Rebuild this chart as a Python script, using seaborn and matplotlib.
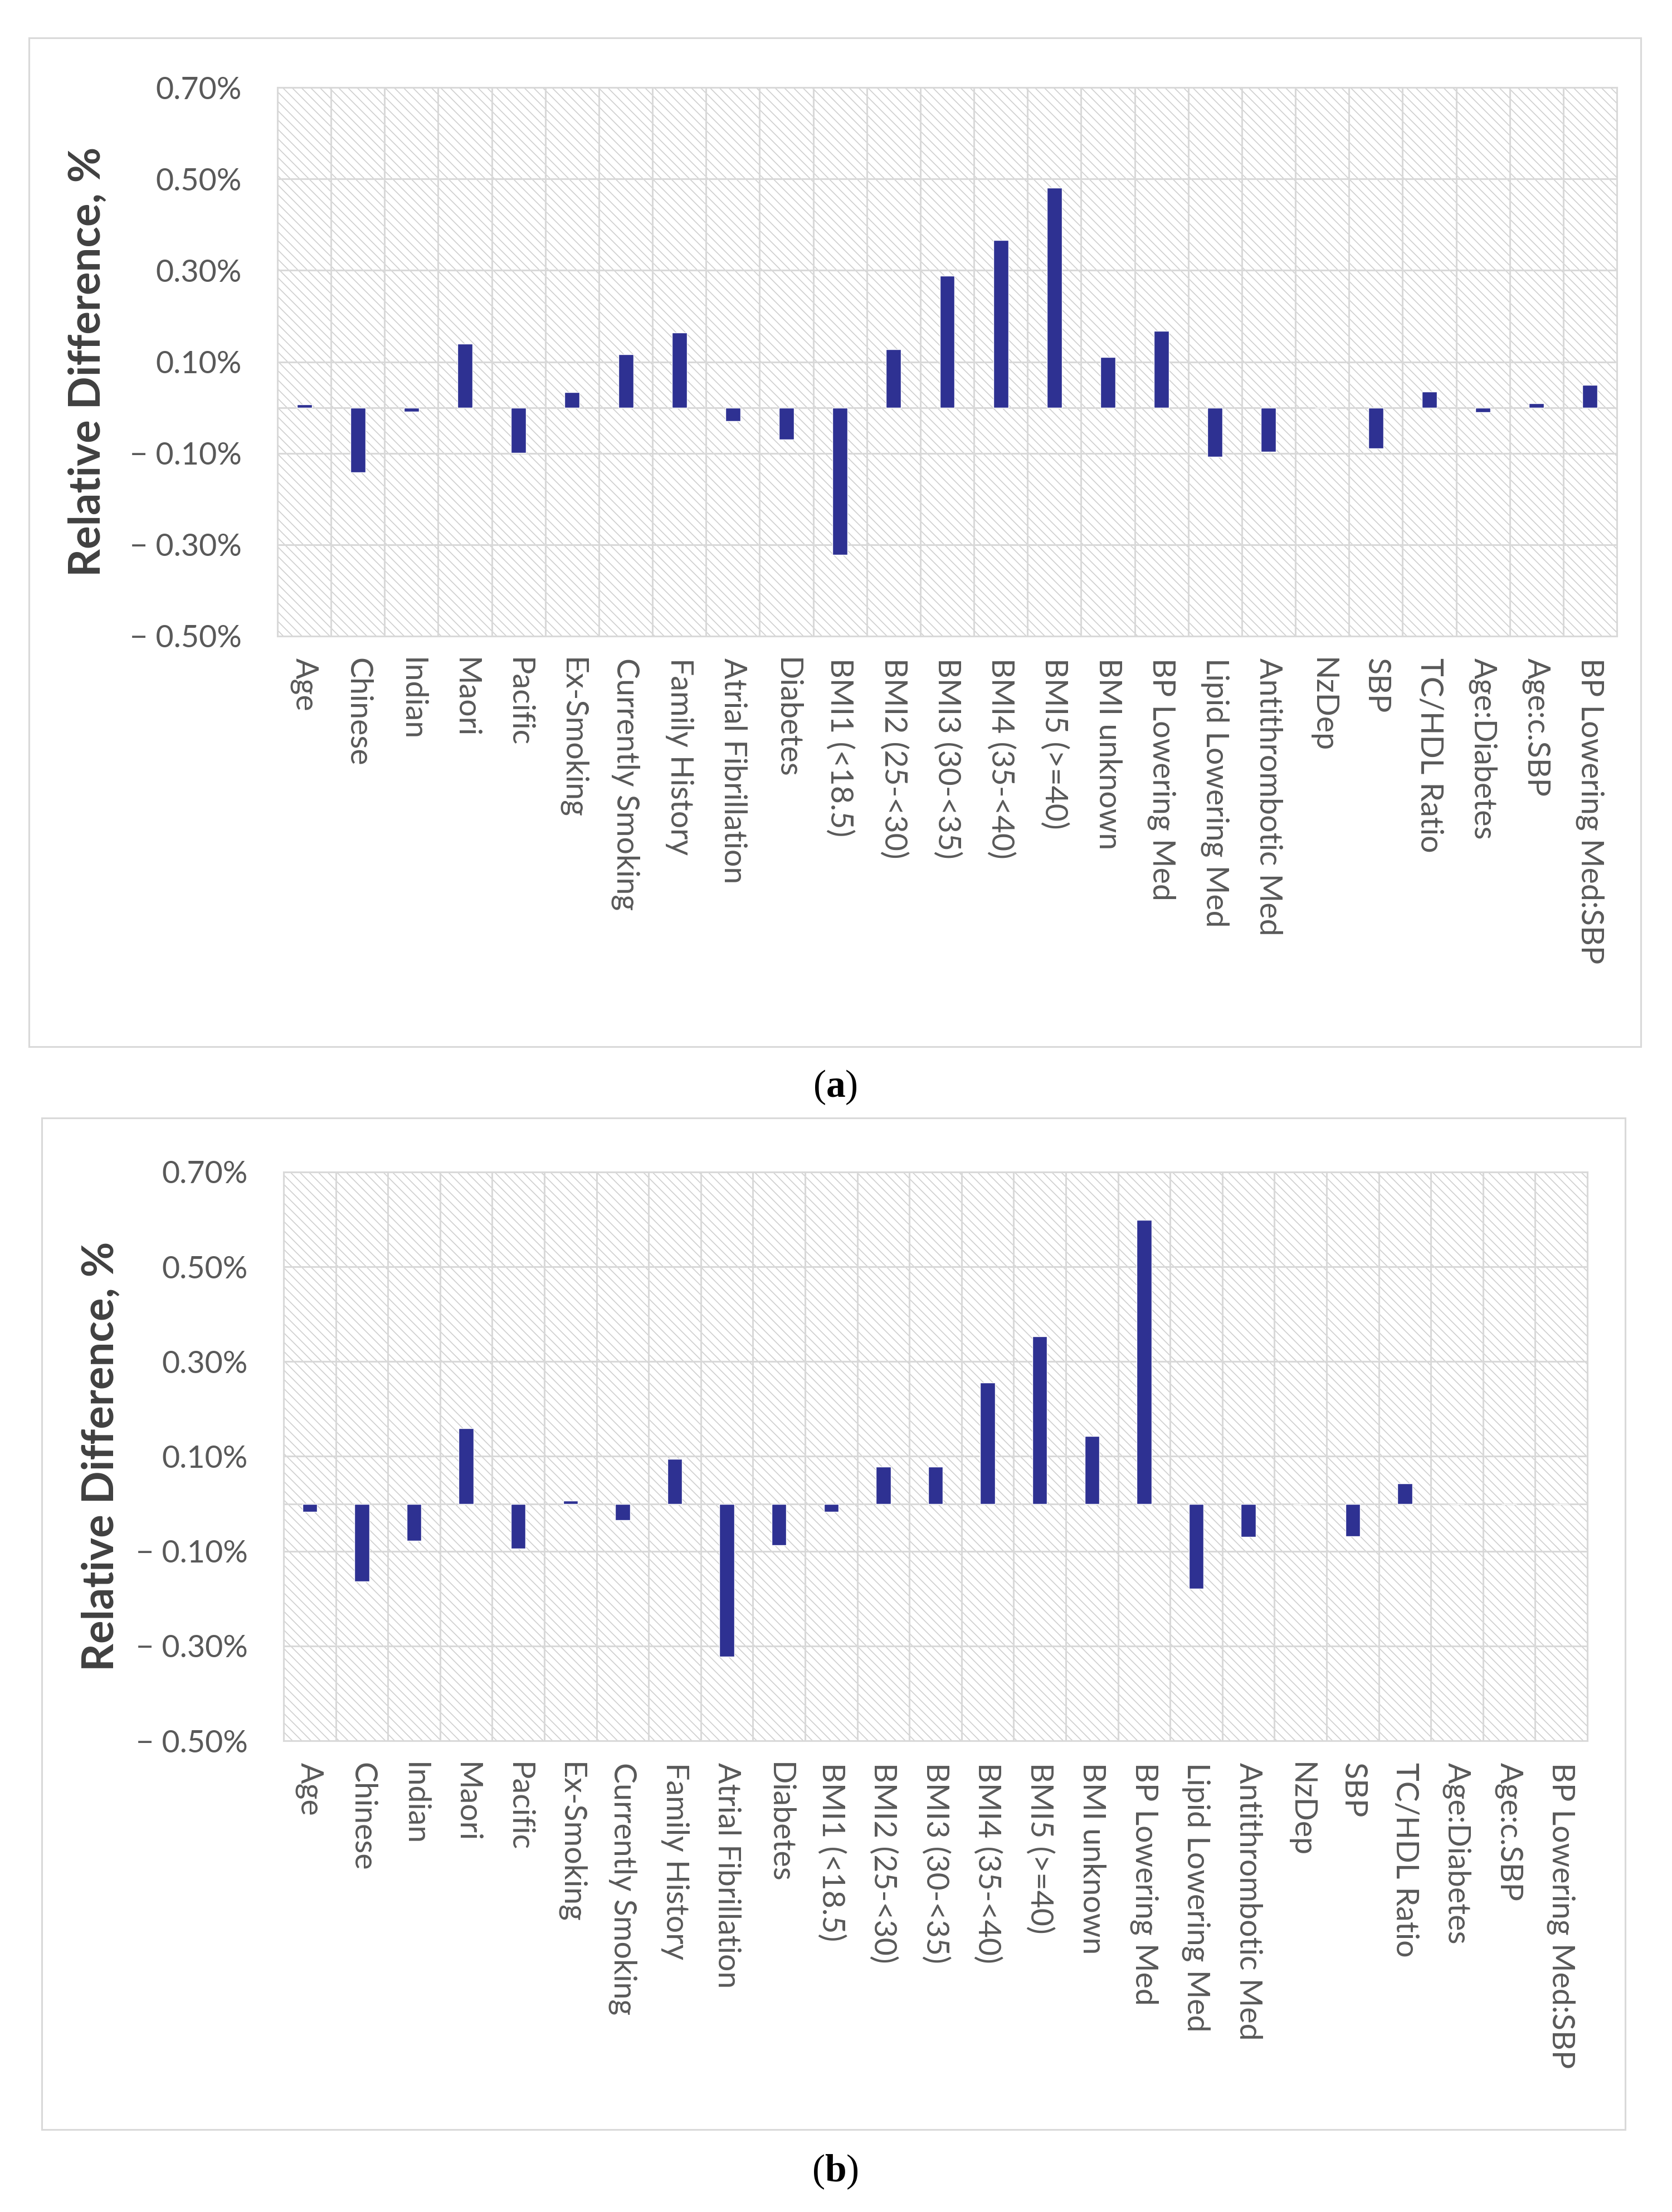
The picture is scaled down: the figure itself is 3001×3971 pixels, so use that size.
#!/usr/bin/env python3
import matplotlib

matplotlib.use("Agg")
import matplotlib.pyplot as plt
import numpy as np
import pandas as pd
import seaborn as sns
from matplotlib.patches import Rectangle

# predictors, in plotting order
predictors = [
    "Age", "Chinese", "Indian", "Maori", "Pacific", "Ex-Smoking",
    "Currently Smoking", "Family History", "Atrial Fibrillation", "Diabetes",
    "BMI1 (<18.5)", "BMI2 (25-<30)", "BMI3 (30-<35)", "BMI4 (35-<40)",
    "BMI5 (>=40)", "BMI unknown", "BP Lowering Med", "Lipid Lowering Med",
    "Antithrombotic Med", "NzDep", "SBP", "TC/HDL Ratio", "Age:Diabetes",
    "Age:c.SBP", "BP Lowering Med:SBP",
]

# relative difference, in %
diff_a = [
    0.007, -0.142, -0.009, 0.139, -0.099, 0.034, 0.117, 0.164, -0.030, -0.070,
    -0.322, 0.127, 0.288, 0.366, 0.481, 0.110, 0.168, -0.108, -0.097, 0.0,
    -0.090, 0.035, -0.010, 0.009, 0.050,
]
diff_b = [
    -0.017, -0.164, -0.078, 0.159, -0.094, 0.007, -0.035, 0.095, -0.323, -0.088,
    -0.017, 0.078, 0.078, 0.256, 0.353, 0.143, 0.599, -0.179, -0.070, 0.0,
    -0.069, 0.043, 0.0, 0.0, 0.0,
]

ytick_values = [-0.5, -0.3, -0.1, 0.1, 0.3, 0.5, 0.7]
ytick_labels = ["\u2212 0.50%", "\u2212 0.30%", "\u2212 0.10%", "0.10%", "0.30%", "0.50%", "0.70%"]

W, H = 3001, 3971
BAR = "#2e3192"
GRID = "#d9d9d9"
TICK = "#595959"


def fx(px):
    return px / W


def fy(px):
    return 1 - px / H


def draw_panel(fig, box, values, frame, label_x, tag, tag_y):
    x0, y0, x1, y1 = box
    ax = fig.add_axes([fx(x0), fy(y1), fx(x1 - x0), (y1 - y0) / H])

    # hatched plot area like the excel "wide downward diagonal" fill
    ax.add_patch(Rectangle((0, 0), 1, 1, transform=ax.transAxes, facecolor="white",
                           edgecolor="#cfcfcf", hatch="\\\\", linewidth=0, zorder=0))

    df = pd.DataFrame({"Predictor": predictors, "Diff": values})
    sns.barplot(data=df, x="Predictor", y="Diff", color=BAR, saturation=1,
                width=0.28, ax=ax, zorder=2)

    n = len(predictors)
    ax.set_xlim(-0.5, n - 0.5)
    ax.set_ylim(-0.5, 0.7)
    ax.set_yticks(ytick_values)
    ax.set_yticklabels(ytick_labels)
    ax.set_xticks(np.arange(-0.5, n, 1.0), minor=True)
    ax.set_axisbelow(True)
    ax.grid(True, which="major", axis="y", color=GRID, lw=2.2)
    ax.grid(True, which="minor", axis="x", color=GRID, lw=2.2)
    ax.grid(False, which="major", axis="x")
    ax.axhline(0, color=GRID, lw=2.2, zorder=1)
    ax.tick_params(axis="both", which="both", length=0)
    ax.tick_params(axis="y", pad=46, labelsize=40, labelcolor=TICK)
    ax.tick_params(axis="x", pad=28, labelsize=40, labelcolor=TICK)
    for t in ax.get_xticklabels():
        t.set_rotation(-90)
        t.set_ha("center")
        t.set_va("top")
    ax.set_xlabel("")
    ax.set_ylabel("")
    for sp in ax.spines.values():
        sp.set_color(GRID)
        sp.set_linewidth(2.2)

    fig.text(fx(label_x), fy((y0 + y1) / 2), "Relative Difference, %", rotation=90,
             ha="center", va="center", fontsize=56, fontweight="bold", color="#404040")

    bx0, by0, bx1, by1 = frame
    fig.add_artist(Rectangle((fx(bx0), fy(by1)), fx(bx1 - bx0), (by1 - by0) / H,
                             transform=fig.transFigure, fill=False, edgecolor=GRID,
                             linewidth=2.2))
    fig.text(fx(1499), fy(tag_y), "($\\mathbf{%s}$)" % tag, ha="center", va="center",
             fontsize=50, family="Liberation Serif", color="black")
    return ax


def main() -> None:
    sns.set_style("white")
    plt.rcParams["font.family"] = ["Lato", "DejaVu Sans"]
    plt.rcParams["mathtext.fontset"] = "custom"
    plt.rcParams["mathtext.bf"] = "Liberation Serif:bold"
    plt.rcParams["mathtext.rm"] = "Liberation Serif"
    plt.rcParams["hatch.linewidth"] = 1.2
    plt.rcParams["hatch.color"] = "#cfcfcf"

    fig = plt.figure(figsize=(W / 100, H / 100), dpi=100)
    fig.patch.set_facecolor("white")

    draw_panel(fig, (498, 157, 2902, 1142), diff_a, (52, 68, 2945, 1879), 158, "a", 1952)
    draw_panel(fig, (509, 2104, 2849, 3125), diff_b, (75, 2007, 2917, 3823), 182, "b", 3899)

    fig.savefig("out.png", dpi=100)


if __name__ == "__main__":
    main()
